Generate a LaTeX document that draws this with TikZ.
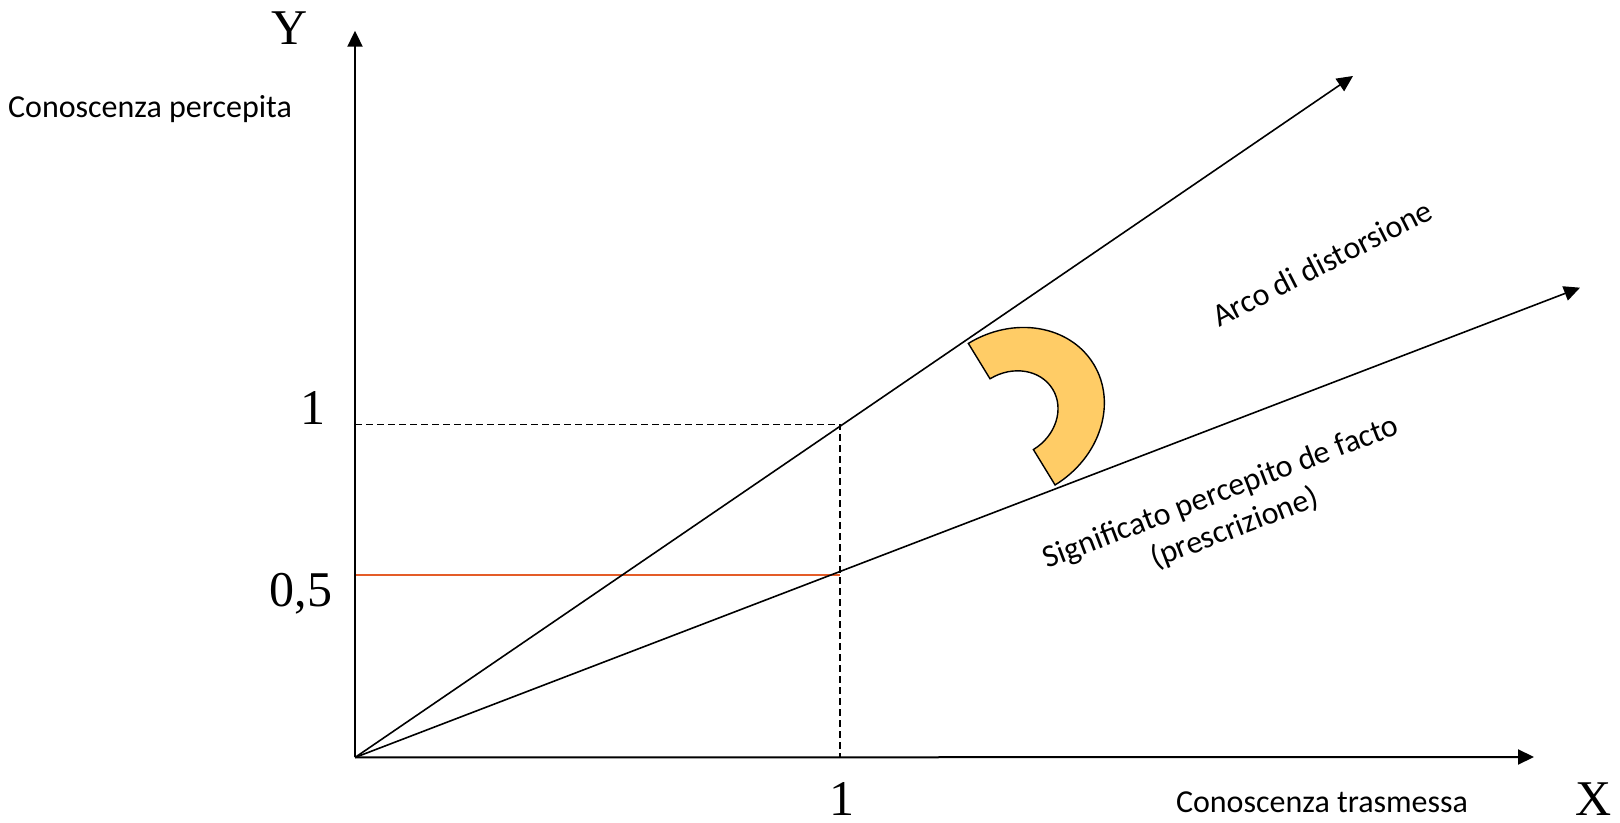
\documentclass[tikz,border=0pt]{standalone}
\usepackage{fontspec}
\setmainfont{Liberation Serif}
\newfontfamily\labelfont{Carlito}
\usetikzlibrary{arrows.meta}
\definecolor{arcfill}{RGB}{255,204,102}
\definecolor{halfred}{RGB}{228,92,40}
\tikzset{
  axisline/.style={line width=1pt,-{Triangle[length=8pt,width=7.5pt]}},
  rayline/.style={line width=0.8pt,-{Triangle[length=8pt,width=7.5pt]}},
  guideline/.style={line width=0.6pt,dash pattern=on 3.3pt off 2.2pt},
  bigtxt/.style={font=\fontsize{25}{28}\selectfont,inner sep=0pt},
  smalltxt/.style={font=\labelfont\fontsize{16}{19}\selectfont,inner sep=0pt,align=center}
}
\begin{document}
\begin{tikzpicture}[x=0.5pt,y=0.5pt]
\useasboundingbox (0,0) rectangle (1620,823);
% key points
\coordinate (O) at (355,65.5);
\coordinate (Ytip) at (355,792.3);
\coordinate (Xtip) at (1534,66);
\coordinate (Utip) at (1353,747);
\coordinate (Ltip) at (1580,535.3);
\coordinate (Yone) at (355,398.7);
\coordinate (Cone) at (840,398.7);
\coordinate (Xone) at (840,65.5);
\coordinate (Yhalf) at (355,248);
\coordinate (Chalf) at (840,248);
% guides
\draw[guideline] (Yone) -- (Cone) -- (Xone);
\draw[halfred,line width=0.8pt] (Yhalf) -- (Chalf);
% rays
\draw[rayline] (O) -- (Utip);
\draw[rayline] (O) -- (Ltip);
% axes
\draw[axisline] (O) -- (Ytip);
\draw[axisline] (O) -- (Xtip);
% block arc
\begin{scope}[shift={(1011.7,408.8)},rotate=31.5]
\draw[fill=arcfill,line width=0.7pt,line join=miter]
  (0,83) arc[start angle=90,end angle=-90,x radius=96,y radius=83]
  -- (0,-41.5) arc[start angle=-90,end angle=90,x radius=48,y radius=41.5]
  -- cycle;
\end{scope}
% labels
\node[bigtxt] (ylab) at (290,794.5) {Y};
\node[bigtxt,anchor=base] (one1) at (313,398) {1};
\node[bigtxt,anchor=base] (half) at (301,216) {0,5};
\node[bigtxt,anchor=base] (one2) at (842,7) {1};
\node[bigtxt,anchor=base] (xlab) at (1594,7) {X};
\node[smalltxt] (cp) at (150,714) {Conoscenza percepita};
\node[smalltxt] (ct) at (1322,21) {Conoscenza trasmessa};
\node[smalltxt,rotate=27] (arco) at (1322,560) {Arco di distorsione};
\node[smalltxt,rotate=21] (sig) at (1228,312) {Significato percepito de facto\\(prescrizione)};
\end{tikzpicture}
\end{document}
